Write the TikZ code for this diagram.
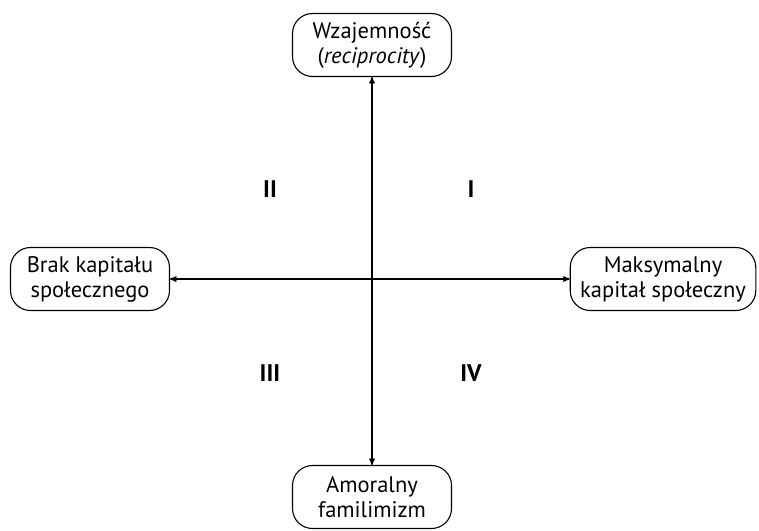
\documentclass[tikz,border=0pt]{standalone}
\usepackage{fontspec}
\setmainfont{PT Sans}
\usepackage{tikz}
\usetikzlibrary{arrows}
\tikzset{biegun/.style={draw, rounded corners=20, align=center, line width=1.1, inner xsep=10, minimum width=159, minimum height=63, font=\fontsize{22.5}{25}\selectfont}}
\tikzset{cwiartka/.style={font=\fontsize{24}{24}\selectfont\bfseries}}

\begin{document}
\begin{tikzpicture} [x=1pt,y=-1pt]
\useasboundingbox (0,0) rectangle (759,530);
\node[biegun] (wzaj) at (372,45) {Wzajemność\\(\textit{reciprocity})};
\node[biegun] (brak) at (90,279) {Brak kapitału\\społecznego};
\node[biegun] (maks) at (663,279) {Maksymalny\\kapitał społeczny};
\node[biegun] (amor) at (372,497) {Amoralny\\familimizm};
\draw[black, line width=1.3, <->, >=stealth'] (amor)--(wzaj);
\draw[black, line width=1.3, <->, >=stealth'] (brak)--(maks);
\foreach \t/\x/\y in {II/270/189, I/471/189, III/270/373, IV/471/373} {
 \node[cwiartka] (q\t) at (\x,\y) {\t};
}
\end{tikzpicture}
\end{document}
